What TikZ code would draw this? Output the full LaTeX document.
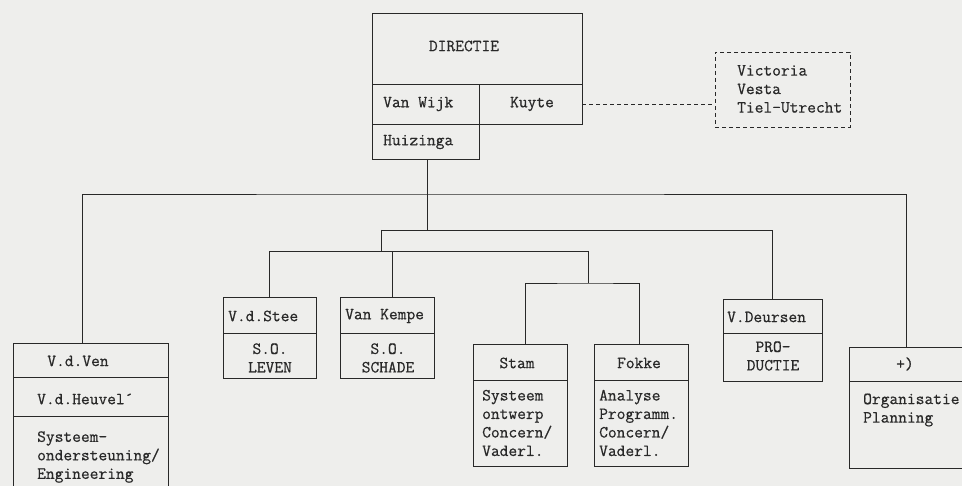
\documentclass[tikz,border=0pt]{standalone}
\usepackage{fontspec}
\newfontfamily\typew{Latin Modern Mono}[FakeBold=0.6]
\definecolor{paper}{RGB}{238,238,236}
\definecolor{ink}{RGB}{40,40,40}
\tikzset{
  cell/.style={draw=ink, line width=0.8pt, rectangle, inner sep=0pt},
  wire/.style={draw=ink, line width=0.8pt},
  ext/.style={draw=ink, line width=0.8pt, dash pattern=on 4pt off 3pt},
  txt/.style={inner sep=0pt, text=ink, font=\typew\fontsize{17}{18.5}\selectfont},
}
\newcommand\cellbox[6][cell]{\node[#1, minimum width={#5-#3}, minimum height={#6-#4}] (#2) at ({(#3+#5)/2},{(#4+#6)/2}) {};}
\begin{document}
\begin{tikzpicture}[x=1pt,y=-1pt]
\fill[paper] (0,0) rectangle (962,486);
\useasboundingbox (0,0) rectangle (962,486);
\clip (0,0) rectangle (962,486);
% top block
\cellbox{dir}{372}{13}{582}{84}
\cellbox{vw}{372}{84}{479}{124}
\cellbox{ku}{479}{84}{582}{124}
\cellbox{hu}{372}{124}{479}{159}
\cellbox[ext]{extb}{715}{52}{850}{127}
% lower boxes
\cellbox{ven}{13}{343}{168}{377}
\cellbox{heu}{13}{377}{168}{416}
\cellbox{venB}{13}{416}{168}{497}
\cellbox{stee}{223}{297}{316}{333}
\cellbox{steeB}{223}{333}{316}{378}
\cellbox{kem}{340}{297}{434}{333}
\cellbox{kemB}{340}{333}{434}{378}
\cellbox{stam}{473}{344}{567}{380}
\cellbox{stamB}{473}{380}{567}{466}
\cellbox{fok}{594}{344}{688}{380}
\cellbox{fokB}{594}{380}{688}{466}
\cellbox{deu}{723}{299}{822}{333}
\cellbox{deuB}{723}{333}{822}{381}
\cellbox{plus}{849}{347}{975}{381}
\cellbox{plusB}{849}{381}{975}{468}
% junction coordinates
\coordinate (bar1) at (427,194);
\coordinate (bar2) at (381,230);
\coordinate (bar3) at (588,251);
\coordinate (bar4) at (588,283);
% connectors
\draw[wire] (hu.south -| bar1) -- (bar1);
\draw[wire] ([xshift=-8pt]ven.north) |- (bar1) -| ([xshift=-6pt]plus.north);
\draw[wire] (bar1) -- (bar1 |- bar2);
\draw[wire] (bar2) -| (deu.north);
\draw[wire] (bar2) -- (bar2 |- bar3);
\draw[wire] (stee.north) |- (bar3);
\draw[wire] ([xshift=5pt]kem.north) -- ([xshift=5pt]kem.north |- bar3);
\draw[wire] (bar3) -- (bar4);
\draw[wire] ([xshift=5pt]stam.north) |- (bar4) -| ([xshift=-2pt]fok.north);
\draw[ext] (ku.east) -- (ku.east -| extb.west);
% texts
\node[txt] (tdir) at (464,46) {DIRECTIE};
\node[txt, anchor=west] (tvw) at (383,104) {Van Wijk};
\node[txt] (tku) at (532,104) {Kuyte};
\node[txt, anchor=west] (thu) at (383,142) {Huizinga};
\node[txt, anchor=west, align=left] (text) at (737,89) {Victoria\\Vesta\\Tiel-Utrecht};
\node[txt] (tven) at (78,361) {V.d.Ven};
\node[txt, anchor=west] (theu) at (37,399) {V.d.Heuvel´};
\node[txt, anchor=west, align=left] (tvenB) at (37,457) {Systeem-\\ondersteuning/\\Engineering};
\node[txt, anchor=west] (tstee) at (228,316) {V.d.Stee};
\node[txt, align=center] (tsteeB) at (270,358) {S.O.\\LEVEN};
\node[txt, anchor=west] (tkem) at (345,316) {Van Kempe};
\node[txt, align=center] (tkemB) at (388,358) {S.O.\\SCHADE};
\node[txt] (tstam) at (517,363) {Stam};
\node[txt, anchor=west, align=left] (tstamB) at (482,423) {Systeem\\ontwerp\\Concern/\\Vaderl.};
\node[txt] (tfok) at (639,363) {Fokke};
\node[txt, anchor=west, align=left] (tfokB) at (599,423) {Analyse\\Programm.\\Concern/\\Vaderl.};
\node[txt, anchor=west] (tdeu) at (727,317) {V.Deursen};
\node[txt, align=center] (tdeuB) at (773,356) {PRO-\\DUCTIE};
\node[txt] (tplus) at (905,364) {+)};
\node[txt, anchor=west, align=left] (tplusB) at (863,410) {Organisatie\\Planning};
\end{tikzpicture}
\end{document}
